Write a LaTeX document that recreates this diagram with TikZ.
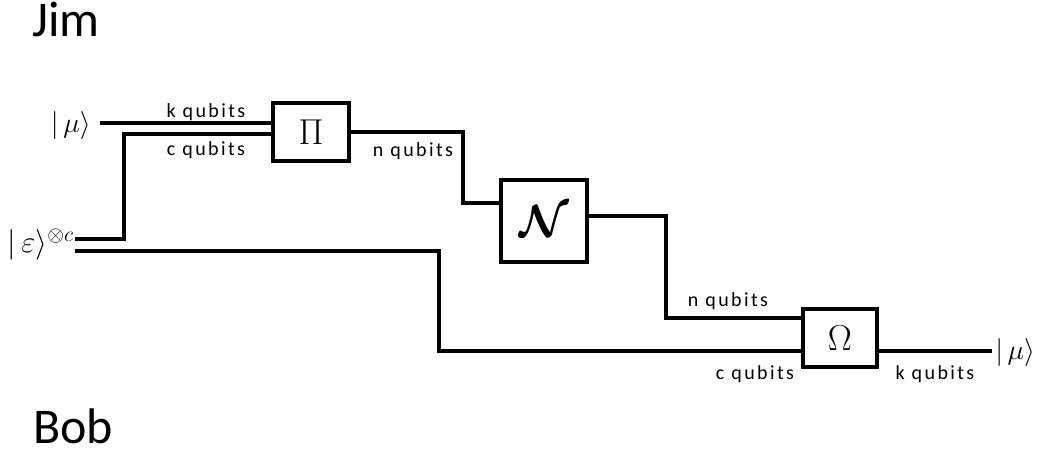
\RequirePackage{fix-cm}
\documentclass[tikz,border=0pt]{standalone}
\usepackage{amsmath}
\usepackage[no-math]{fontspec}
\setmainfont{Carlito}
\newfontfamily\lblfont[LetterSpace=12]{Carlito}
\begin{document}
\begin{tikzpicture}[x=0.75pt,y=-0.75pt,
  wire/.style={line width=2.3pt,line join=miter},
  gate/.style={draw,line width=2.3pt,fill=white,inner sep=0pt,font=\fontsize{27}{29}\selectfont},
  lbl/.style={inner sep=0pt,anchor=base,font=\lblfont\fontsize{15}{17}\selectfont},
  ket/.style={inner sep=0pt,font=\fontsize{21}{23}\selectfont},
  who/.style={inner sep=0pt,anchor=base west,font=\fontsize{37.5}{40}\selectfont}]
\useasboundingbox (0,0) rectangle (1040,456);

% parties
\node[who] (jim) at (32,37) {Jim};
\node[who] (bob) at (33,443) {Bob};

% gates
\node[gate,minimum width=57pt,minimum height=43.5pt] (pi) at (311,132) {$\Pi$};
\node[gate,minimum width=64.5pt,minimum height=61.5pt] (nn) at (544,221) {\fontsize{34}{36}\selectfont$\boldsymbol{\mathcal{N}}$};
\node[gate,minimum width=55.5pt,minimum height=43.5pt] (om) at (840,338) {$\Omega$};

% states
\node[ket,anchor=east] (muin) at (91,126) {$|\,\mu\rangle$};
\node[ket,anchor=east,font=\fontsize{23}{25}\selectfont] (eps) at (74,245) {$|\,\varepsilon\rangle^{\otimes c}$};
\node[ket,anchor=west] (muout) at (995,352) {$|\,\mu\rangle$};

% wire points
\coordinate (kin) at (100,123);
\coordinate (pik) at (273,123);
\coordinate (pic) at (273,134);
\coordinate (eu) at (75,239);
\coordinate (el) at (75,251);
\coordinate (nin) at (501,203);
\coordinate (nout) at (587,216);
\coordinate (omn) at (803,318);
\coordinate (omc) at (803,351);
\coordinate (omo) at (877,351);
\coordinate (kout) at (992,351);

% wires
\draw[wire] (kin) -- (pik);
\draw[wire] (eu) -| (124,134) -- (pic);
\draw[wire] (el) -| (439,351) -- (omc);
\draw[wire] (pi.east) -| (463,203) -- (nin);
\draw[wire] (nout) -| (666,318) -- (omn);
\draw[wire] (omo) -- (kout);

% labels
\node[lbl] (l1) at (206,118) {k qubits};
\node[lbl] (l2) at (206,156) {c qubits};
\node[lbl] (l3) at (413,157) {n qubits};
\node[lbl] (l4) at (728,306) {n qubits};
\node[lbl] (l5) at (755,379) {c qubits};
\node[lbl] (l6) at (935,379) {k qubits};
\end{tikzpicture}
\end{document}
